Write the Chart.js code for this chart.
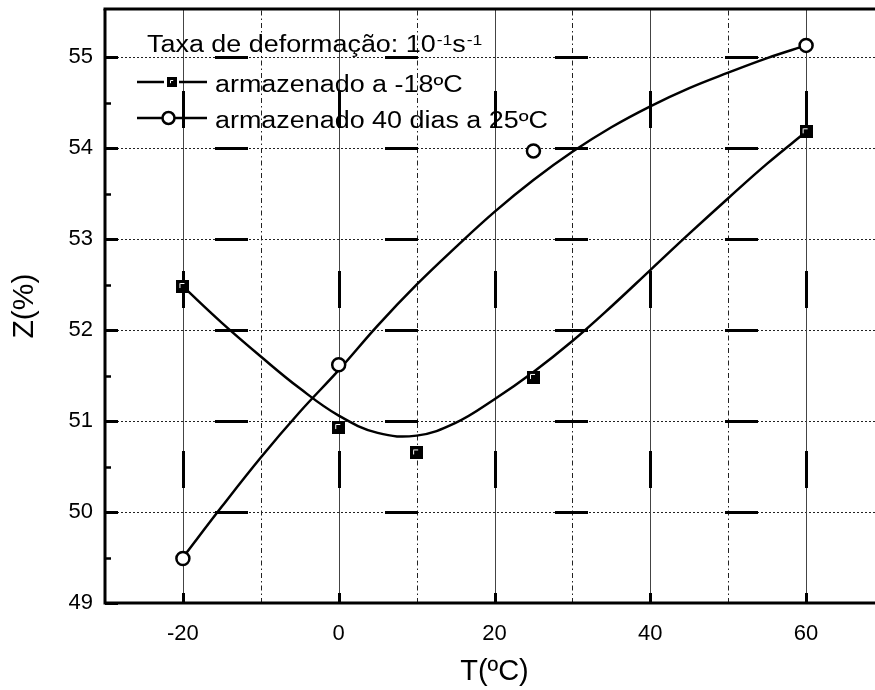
<!DOCTYPE html>
<html>
<head>
<meta charset="utf-8">
<title>Z(%) x T(ºC)</title>
<script src="https://cdn.jsdelivr.net/npm/chart.js@4.4.1/dist/chart.umd.min.js"></script>
<style>
  html, body { margin: 0; padding: 0; background: #fff; overflow: hidden; }
  #wrap { width: 900px; height: 690px; }
</style>
</head>
<body>
<div id="wrap"><canvas id="zChart" width="900" height="690"></canvas></div>
<script>
// ensaios: temperatura (ºC) e estricção Z (%)
const tempFrozen = [-20, 0, 10, 25, 60];
const zFrozen = [52.48, 50.93, 50.65, 51.48, 54.18];
const tempStored = [-20, 0, 25, 60];
const zStored = [49.49, 51.62, 53.97, 55.13];

// curvas de ajuste
const fitTemp = [-20, -15, -10, -5, 0, 5, 10, 15, 20, 25, 30, 35, 40, 45, 50, 55, 60];
const fitFrozen = [52.48, 52.08, 51.71, 51.36, 51.06, 50.87, 50.84, 50.98, 51.24, 51.54, 51.88, 52.26, 52.66, 53.06, 53.45, 53.83, 54.18];
const fitStored = [49.5, 50.06, 50.6, 51.1, 51.56, 52.05, 52.5, 52.91, 53.3, 53.65, 53.96, 54.23, 54.46, 54.66, 54.83, 54.99, 55.13];

const tempTicks = [-20, 0, 20, 40, 60];
const tempMinor = [-10, 10, 30, 50];
const zTicks = [49, 50, 51, 52, 53, 54, 55];
const zMinor = [49.5, 50.5, 51.5, 52.5, 53.5, 54.5];

const labelFrozen = 'armazenado a -18ºC';
const labelStored = 'armazenado 40 dias a 25ºC';
const legendTitle = 'Taxa de deformação: 10';

const FONT = '"Liberation Sans", Arial, sans-serif';
const SX = 1.17; // letras mais largas na legenda

const pts = (xs, ys) => xs.map((x, i) => ({ x: x, y: ys[i] }));

// quadrado preto com o canto claro
function squareMarker(size) {
    const c = document.createElement('canvas');
    c.width = size;
    c.height = size;
    const g = c.getContext('2d');
    g.fillStyle = '#000';
    g.fillRect(0, 0, size, size);
    g.strokeStyle = '#fff';
    g.lineWidth = 1;
    g.beginPath();
    g.moveTo(3.5, size * 0.62);
    g.lineTo(3.5, 3.5);
    g.lineTo(size * 0.62, 3.5);
    g.stroke();
    return c;
}

function seg(ctx, x1, y1, x2, y2) {
    ctx.beginPath();
    ctx.moveTo(x1, y1);
    ctx.lineTo(x2, y2);
    ctx.stroke();
}

function wideText(ctx, str, x, y, size) {
    ctx.save();
    ctx.font = size + 'px ' + FONT;
    ctx.translate(x, y);
    ctx.scale(SX, 1);
    ctx.fillText(str, 0, 0);
    const w = ctx.measureText(str).width * SX;
    ctx.restore();
    return w;
}

// grade no estilo do Origin
const gridPlugin = {
    id: 'gridPlugin',
    beforeDatasetsDraw(chart) {
        const { ctx, chartArea: a, scales: { x, y } } = chart;
        ctx.save();
        ctx.strokeStyle = '#222';

        // horizontais pontilhadas
        ctx.lineWidth = 1;
        ctx.setLineDash([2, 2]);
        zTicks.slice(1).forEach(v => {
            const py = Math.round(y.getPixelForValue(v)) + 0.5;
            seg(ctx, a.left, py, a.right, py);
        });

        // verticais secundárias traço-ponto
        ctx.setLineDash([5, 3, 1.5, 3]);
        tempMinor.forEach(v => {
            const px = Math.round(x.getPixelForValue(v)) + 0.5;
            seg(ctx, px, a.bottom, px, a.top);
        });

        // verticais principais
        ctx.setLineDash([]);
        ctx.strokeStyle = '#444';
        tempTicks.forEach(v => {
            const px = Math.round(x.getPixelForValue(v)) + 0.5;
            seg(ctx, px, a.bottom, px, a.top);
        });

        // traços grossos sobre as linhas principais
        ctx.strokeStyle = '#000';
        ctx.lineWidth = 3;
        ctx.setLineDash([33, 137]);
        ctx.lineDashOffset = 60;
        zTicks.slice(1).forEach(v => {
            const py = Math.round(y.getPixelForValue(v)) + 0.5;
            seg(ctx, a.left, py, a.right, py);
        });
        ctx.setLineDash([37, 143]);
        ctx.lineDashOffset = 65;
        tempTicks.forEach(v => {
            const px = Math.round(x.getPixelForValue(v)) + 0.5;
            seg(ctx, px, a.bottom, px, a.top);
        });
        ctx.restore();
    },
    afterDatasetsDraw(chart) {
        const { ctx, chartArea: a, scales: { x, y } } = chart;
        ctx.save();
        ctx.strokeStyle = '#000';
        ctx.lineWidth = 3;
        // moldura
        seg(ctx, a.left, a.bottom, a.right, a.bottom);
        seg(ctx, a.left, a.bottom + 1.5, a.left, a.top);
        seg(ctx, a.left - 1.5, a.top, a.right, a.top);
        // marcas para dentro
        tempTicks.forEach(v => {
            const px = Math.round(x.getPixelForValue(v)) + 0.5;
            seg(ctx, px, a.bottom, px, a.bottom - 10);
        });
        zTicks.forEach(v => {
            const py = Math.round(y.getPixelForValue(v)) + 0.5;
            seg(ctx, a.left, py, a.left + 13, py);
        });
        ctx.lineWidth = 2.5;
        zMinor.forEach(v => {
            const py = Math.round(y.getPixelForValue(v)) + 0.5;
            seg(ctx, a.left, py, a.left + 6, py);
        });
        ctx.restore();
    },
    afterDraw(chart) {
        const ctx = chart.ctx;
        ctx.save();
        ctx.fillStyle = '#000';
        ctx.textBaseline = 'alphabetic';

        // título da legenda com expoentes
        let tx = 147;
        tx += wideText(ctx, legendTitle, tx, 52, 23);
        tx += wideText(ctx, '-1', tx + 1, 45, 15) + 1;
        tx += wideText(ctx, 's', tx, 52, 23);
        wideText(ctx, '-1', tx + 1, 45, 15);

        ctx.strokeStyle = '#000';
        ctx.lineWidth = 2.5;

        // -18ºC
        seg(ctx, 137, 82, 164, 82);
        seg(ctx, 179, 82, 207, 82);
        ctx.drawImage(squareMarker(10), 167, 77);
        wideText(ctx, chart.data.datasets[0].label, 215, 92, 23);

        // 40 dias a 25ºC
        seg(ctx, 137, 118, 162, 118);
        seg(ctx, 175, 118, 207, 118);
        ctx.beginPath();
        ctx.arc(168.5, 118, 6, 0, Math.PI * 2);
        ctx.fillStyle = '#fff';
        ctx.fill();
        ctx.stroke();
        ctx.fillStyle = '#000';
        wideText(ctx, chart.data.datasets[1].label, 215, 128, 23);
        ctx.restore();
    }
};

let ZChart = function () {
    let _draw = function () {
        const data = {
            datasets: [
                {
                    label: labelFrozen,
                    data: pts(tempFrozen, zFrozen),
                    pointStyle: squareMarker(13),
                    pointRadius: 6.5,
                    showLine: false,
                    order: 0
                },
                {
                    label: labelStored,
                    data: pts(tempStored, zStored),
                    pointStyle: 'circle',
                    pointRadius: 6.5,
                    pointBorderWidth: 2.5,
                    pointBorderColor: '#000',
                    pointBackgroundColor: '#fff',
                    showLine: false,
                    order: 0
                },
                {
                    label: 'ajuste -18ºC',
                    data: pts(fitTemp, fitFrozen),
                    showLine: true,
                    borderColor: '#000',
                    borderWidth: 2.5,
                    pointRadius: 0,
                    tension: 0.4,
                    order: 1
                },
                {
                    label: 'ajuste 25ºC',
                    data: pts(fitTemp, fitStored),
                    showLine: true,
                    borderColor: '#000',
                    borderWidth: 2.5,
                    pointRadius: 0,
                    tension: 0.4,
                    order: 1
                }
            ]
        };

        const options = {
            responsive: false,
            animation: false,
            events: [],
            layout: { padding: { left: 0, top: 9, right: 16, bottom: 0 } },
            plugins: {
                legend: { display: false },
                tooltip: { enabled: false }
            },
            scales: {
                x: {
                    type: 'linear',
                    min: -30,
                    max: 70,
                    afterBuildTicks: s => { s.ticks = tempTicks.map(v => ({ value: v })); },
                    afterFit: s => { s.height = 87; s.paddingLeft = 0; s.paddingRight = 0; },
                    grid: { display: false, drawTicks: false },
                    border: { display: false },
                    ticks: { color: '#000', padding: 18, font: { family: FONT, size: 22 } },
                    title: {
                        display: true,
                        text: 'T(ºC)',
                        color: '#000',
                        padding: { top: 0, bottom: 1 },
                        font: { family: FONT, size: 29 }
                    }
                },
                y: {
                    type: 'linear',
                    min: 49,
                    max: 55.53,
                    afterBuildTicks: s => { s.ticks = zTicks.map(v => ({ value: v })); },
                    afterFit: s => { s.width = 105; s.paddingTop = 0; s.paddingBottom = 0; },
                    grid: { display: false, drawTicks: false },
                    border: { display: false },
                    ticks: { color: '#000', padding: 12, font: { family: FONT, size: 22 } },
                    title: {
                        display: true,
                        text: 'Z(%)',
                        color: '#000',
                        padding: { top: 7, bottom: 0 },
                        font: { family: FONT, size: 30 }
                    }
                }
            }
        };

        const ctx = document.getElementById('zChart').getContext('2d');
        new Chart(ctx, { type: 'scatter', data: data, options: options, plugins: [gridPlugin] });
    };
    return {
        init: () => {
            _draw();
        }
    }
}();
document.addEventListener('DOMContentLoaded', function () {
    ZChart.init();
})
</script>
</body>
</html>
